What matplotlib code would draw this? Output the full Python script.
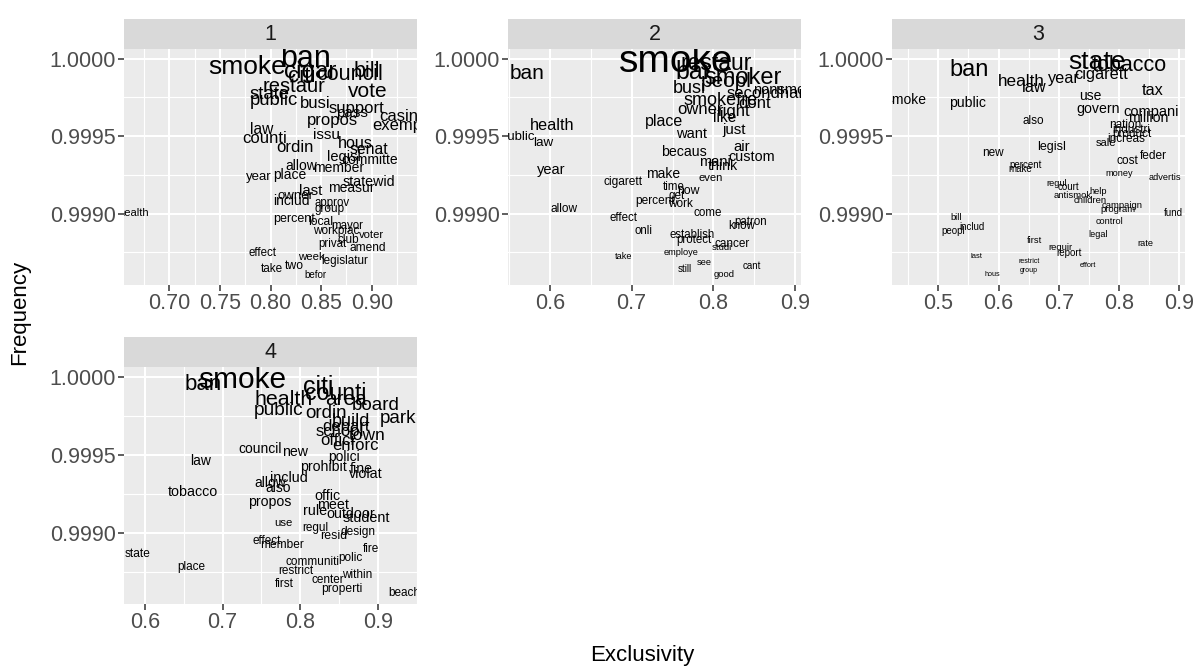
"""
Nuage de mots par thème : exclusivité (x) contre fréquence (y), 4 facettes.
"""
import matplotlib
matplotlib.use("Agg")
import matplotlib.pyplot as plt

plt.rcParams["font.family"] = ["Liberation Sans", "DejaVu Sans"]

# Données (une série par thème)
words1 = ["smoke", "ban", "cigar", "citi", "council", "bill", "restaur", "vote", "state", "public",
          "busi", "support", "pass", "casino", "propos", "exempt", "law", "counti", "issu", "ordin",
          "hous", "senat", "legisl", "committe", "allow", "member", "year", "place", "statewid", "measur",
          "last", "owner", "includ", "approv", "group", "health", "percent", "local", "mayor", "workplac",
          "voter", "club", "privat", "amend", "effect", "week", "legislatur", "two", "take", "befor"]
excl1 = [0.777, 0.835, 0.839, 0.831, 0.878, 0.895, 0.823, 0.896, 0.799, 0.803,
         0.844, 0.885, 0.880, 0.931, 0.861, 0.927, 0.791, 0.794, 0.855, 0.824,
         0.884, 0.897, 0.872, 0.898, 0.830, 0.867, 0.788, 0.819, 0.897, 0.880,
         0.840, 0.825, 0.821, 0.861, 0.858, 0.665, 0.823, 0.849, 0.876, 0.865,
         0.900, 0.877, 0.861, 0.896, 0.792, 0.840, 0.873, 0.824, 0.801, 0.844]
freq1 = [0.999947, 1.000000, 0.999915, 0.999884, 0.999894, 0.999915, 0.999818, 0.999786, 0.999771, 0.999728,
         0.999707, 0.999679, 0.999650, 0.999625, 0.999597, 0.999565, 0.999539, 0.999485, 0.999507, 0.999427,
         0.999453, 0.999410, 0.999367, 0.999345, 0.999307, 0.999292, 0.999234, 0.999249, 0.999201, 0.999167,
         0.999147, 0.999113, 0.999083, 0.999066, 0.999027, 0.999001, 0.998965, 0.998947, 0.998920, 0.998887,
         0.998862, 0.998829, 0.998801, 0.998780, 0.998744, 0.998718, 0.998696, 0.998662, 0.998640, 0.998604]
size1 = [19, 22, 17.5, 16, 15.5, 15.5, 14.5, 15, 13.3, 13.3,
         12, 12, 11, 12, 12, 12, 11.2, 12, 11, 12,
         11.6, 11.3, 10.5, 10, 10, 10, 9.5, 10, 10.3, 10,
         10.8, 9.5, 10, 8.3, 8.5, 8, 9, 8.7, 8.3, 8.5,
         8.1, 8.5, 8.3, 8.6, 8.3, 8.2, 8.4, 8.8, 8.5, 7]

words2 = ["smoke", "ban", "bar", "restaur", "smoker", "peopl", "busi", "secondhand", "nonsmok", "smokefre",
          "dont", "owner", "right", "like", "place", "health", "public", "law", "want", "just",
          "air", "becaus", "custom", "mani", "think", "year", "even", "make", "cigarett", "time",
          "now", "get", "percent", "work", "allow", "come", "effect", "patron", "know", "onli",
          "establish", "protect", "cancer", "studi", "employe", "take", "see", "cant", "still", "good"]
excl2 = [0.754, 0.572, 0.7755, 0.803, 0.836, 0.816, 0.771, 0.872, 0.885, 0.809,
         0.851, 0.784, 0.825, 0.814, 0.7395, 0.603, 0.560, 0.592, 0.773, 0.826,
         0.835, 0.764, 0.847, 0.802, 0.812, 0.601, 0.797, 0.738, 0.690, 0.752,
         0.769, 0.7555, 0.7285, 0.760, 0.617, 0.793, 0.690, 0.845, 0.835, 0.714,
         0.774, 0.776, 0.823, 0.810, 0.761, 0.690, 0.7885, 0.8466, 0.765, 0.8127]
freq2 = [0.999979, 0.999905, 0.999915, 0.999969, 0.999872, 0.999850, 0.999808, 0.999776, 0.999797, 0.999732,
         0.999711, 0.999674, 0.999657, 0.999621, 0.999592, 0.999571, 0.999494, 0.999453, 0.999510, 0.999539,
         0.999427, 0.999395, 0.999367, 0.999334, 0.999307, 0.999281, 0.999227, 0.999255, 0.999201, 0.999169,
         0.999145, 0.999113, 0.999083, 0.999062, 0.999029, 0.999002, 0.998969, 0.998943, 0.998920, 0.998887,
         0.998862, 0.998829, 0.998801, 0.998780, 0.998747, 0.998722, 0.998687, 0.998662, 0.998640, 0.998604]
size2 = [28, 15, 18, 16.5, 17, 15, 13, 12, 10.5, 13,
         12, 12, 12, 11.2, 11.5, 11.7, 9.5, 9.6, 10.5, 10.8,
         10.8, 10.2, 10.4, 10.5, 10.2, 10.5, 8.1, 10, 8.6, 8.3,
         8.8, 8.5, 8.6, 8.5, 8.6, 8.4, 8.3, 8.3, 8.3, 8.3,
         8.3, 8.3, 8.5, 6.8, 6.7, 6.6, 6.7, 7, 7, 6.8]

words3 = ["state", "tobacco", "ban", "cigarett", "year", "health", "law", "tax", "use", "smoke",
          "public", "govern", "compani", "million", "also", "nation", "industri", "product", "increas", "sale",
          "legisl", "cost", "feder", "money", "advertis", "new", "percent", "make", "regul", "court",
          "help", "antismok", "children", "campaign", "program", "fund", "bill", "includ", "peopl", "control",
          "legal", "first", "rate", "requir", "report", "last", "restrict", "effort", "group", "hous"]
excl3 = [0.763, 0.817, 0.5505, 0.771, 0.7086, 0.638, 0.660, 0.8555, 0.753, 0.446,
         0.548, 0.766, 0.853, 0.8485, 0.657, 0.810, 0.8195, 0.821, 0.8127, 0.778,
         0.688, 0.814, 0.857, 0.800, 0.876, 0.590, 0.6456, 0.636, 0.696, 0.7166,
         0.765, 0.723, 0.752, 0.805, 0.798, 0.8896, 0.5305, 0.5554, 0.5256, 0.784,
         0.766, 0.6588, 0.8436, 0.7033, 0.7166, 0.564, 0.6514, 0.749, 0.650, 0.5895]
freq3 = [0.999979, 0.999958, 0.999926, 0.999898, 0.999872, 0.999850, 0.999812, 0.999792, 0.999760, 0.999732,
         0.999711, 0.999674, 0.999657, 0.999614, 0.999597, 0.999571, 0.999539, 0.999513, 0.999481, 0.999453,
         0.999427, 0.999339, 0.999371, 0.999255, 0.999234, 0.999392, 0.999313, 0.999285, 0.999195, 0.999173,
         0.999145, 0.999115, 0.999087, 0.999055, 0.999027, 0.999005, 0.998973, 0.998915, 0.998887, 0.998947,
         0.998862, 0.998829, 0.998804, 0.998780, 0.998747, 0.998722, 0.998689, 0.998663, 0.998631, 0.998604]
size3 = [19, 15.5, 17, 11.7, 11.7, 12.3, 11.7, 11.7, 10, 10,
         10.1, 10.2, 10.5, 10.2, 8.5, 8.5, 8.5, 8.5, 8.5, 8,
         9, 8.6, 8.6, 6.6, 6.7, 8.5, 7, 7, 6.7, 7,
         6.7, 6.8, 6.8, 6.8, 6.8, 7.1, 6.7, 7, 7, 6.6,
         6.6, 6.7, 6.7, 6.8, 7, 5.4, 5, 5.3, 5, 5.2]

words4 = ["smoke", "ban", "citi", "counti", "area", "health", "public", "board", "ordin", "park",
          "build", "depart", "school", "town", "offici", "enforc", "council", "new", "polici", "law",
          "prohibit", "fine", "violat", "includ", "allow", "also", "tobacco", "propos", "offic", "meet",
          "rule", "outdoor", "student", "use", "regul", "design", "resid", "effect", "member", "fire",
          "state", "polic", "communiti", "place", "restrict", "within", "center", "first", "properti", "beach"]
excl4 = [0.7256, 0.675, 0.823, 0.846, 0.859, 0.779, 0.772, 0.897, 0.833, 0.926,
         0.865, 0.859, 0.851, 0.886, 0.848, 0.871, 0.748, 0.794, 0.857, 0.672,
         0.830, 0.879, 0.885, 0.785, 0.762, 0.772, 0.6615, 0.761, 0.835, 0.842,
         0.819, 0.865, 0.885, 0.779, 0.820, 0.874, 0.843, 0.757, 0.777, 0.891,
         0.591, 0.865, 0.8165, 0.659, 0.794, 0.873, 0.836, 0.780, 0.854, 0.934]
freq4 = [0.999981, 0.999955, 0.999933, 0.999896, 0.999853, 0.999853, 0.999788, 0.999820, 0.999767, 0.999735,
         0.999713, 0.999681, 0.999649, 0.999628, 0.999596, 0.999564, 0.999538, 0.999521, 0.999485, 0.999462,
         0.999425, 0.999408, 0.999376, 0.999351, 0.999319, 0.999290, 0.999261, 0.999201, 0.999237, 0.999179,
         0.999143, 0.999120, 0.999094, 0.999062, 0.999034, 0.999004, 0.998981, 0.998949, 0.998923, 0.998895,
         0.998865, 0.998838, 0.998812, 0.998780, 0.998758, 0.998731, 0.998699, 0.998673, 0.998639, 0.998613]
size4 = [21.5, 16, 18, 16.6, 15, 15.4, 13.8, 13.6, 13.5, 13.6,
         13, 12, 12, 12.5, 12, 12, 10, 10.2, 10, 10,
         10.2, 10.2, 10.3, 10.4, 10, 10, 10.3, 10.2, 10.3, 10.3,
         10.4, 10.3, 10.4, 8.2, 8.5, 8.6, 8.9, 8.5, 8.6, 8.5,
         8.6, 8.5, 8.5, 8.5, 8.5, 8.5, 8.5, 8.5, 8.7, 8.5]

topic_labels = ["1", "2", "3", "4"]
y_ticks = [0.999, 0.9995, 1.0]
x_ticks = [
    [0.70, 0.75, 0.80, 0.85, 0.90],
    [0.6, 0.7, 0.8, 0.9],
    [0.5, 0.6, 0.7, 0.8, 0.9],
    [0.6, 0.7, 0.8, 0.9],
]

# Mise en page (pixels de la figure 1201 x 671)
W, H = 1201, 671
_PANELS = [(124, 49, 417, 285), (508, 49, 801, 285), (892, 49, 1185, 285), (124, 367, 417, 604)]
_XLIMS = [(0.6554, 0.9446), (0.5486, 0.9073), (0.4232, 0.9095), (0.5729, 0.9506)]
_YLIMS = [(0.998539, 1.0000613)] * 3 + [(0.998545, 1.0000641)]
_XFMT = ["%.2f", "%.1f", "%.1f", "%.1f"]
_STRIP_H = 30
_BG = "#EBEBEB"
_STRIP_BG = "#D9D9D9"
_TICK_COL = "#4D4D4D"
_TICK_SIZE = 15.5

topics = [
    (words1, excl1, freq1, size1),
    (words2, excl2, freq2, size2),
    (words3, excl3, freq3, size3),
    (words4, excl4, freq4, size4),
]

fig = plt.figure(figsize=(W / 100, H / 100), dpi=100)

for i, (words, excl, freq, sizes) in enumerate(topics):
    l, t, r, b = _PANELS[i]
    ax = fig.add_axes([l / W, 1 - b / H, (r - l) / W, (b - t) / H])
    ax.set_facecolor(_BG)
    for s in ax.spines.values():
        s.set_visible(False)

    xt = x_ticks[i]
    step = xt[1] - xt[0]
    minor_x = [xt[0] - step / 2] + [v + step / 2 for v in xt]
    ax.set_xticks(xt)
    ax.set_xticklabels([_XFMT[i] % v for v in xt])
    ax.set_xticks(minor_x, minor=True)
    ax.set_yticks(y_ticks)
    ax.set_yticklabels(["%.4f" % v for v in y_ticks])
    ax.set_yticks([0.99875, 0.99925, 0.99975, 1.00025], minor=True)
    ax.set_xlim(*_XLIMS[i])
    ax.set_ylim(*_YLIMS[i])

    ax.grid(True, which="major", color="white", lw=1.5)
    ax.grid(True, which="minor", color="white", lw=0.8)
    ax.set_axisbelow(True)
    ax.tick_params(which="major", length=4, width=1.1, color="#333333",
                   labelsize=_TICK_SIZE, labelcolor=_TICK_COL, pad=2)
    ax.tick_params(which="minor", length=0)

    for w, x, y, s in zip(words, excl, freq, sizes):
        ax.text(x, y, w, fontsize=s, ha="center", va="center",
                color="black", clip_on=True)

    # Bandeau de facette
    sax = fig.add_axes([l / W, 1 - t / H, (r - l) / W, _STRIP_H / H])
    sax.set_facecolor(_STRIP_BG)
    sax.set_xticks([])
    sax.set_yticks([])
    for s in sax.spines.values():
        s.set_visible(False)
    sax.text(0.5, 0.5, topic_labels[i], ha="center", va="center",
             fontsize=_TICK_SIZE, color="#1A1A1A", transform=sax.transAxes)

fig.text(642 / W, 1 - 655 / H, "Exclusivity", ha="center", va="center", fontsize=16)
fig.text(20 / W, 1 - 312 / H, "Frequency", ha="center", va="center", rotation=90, fontsize=16)

fig.savefig("out.png", dpi=100, facecolor="white")
